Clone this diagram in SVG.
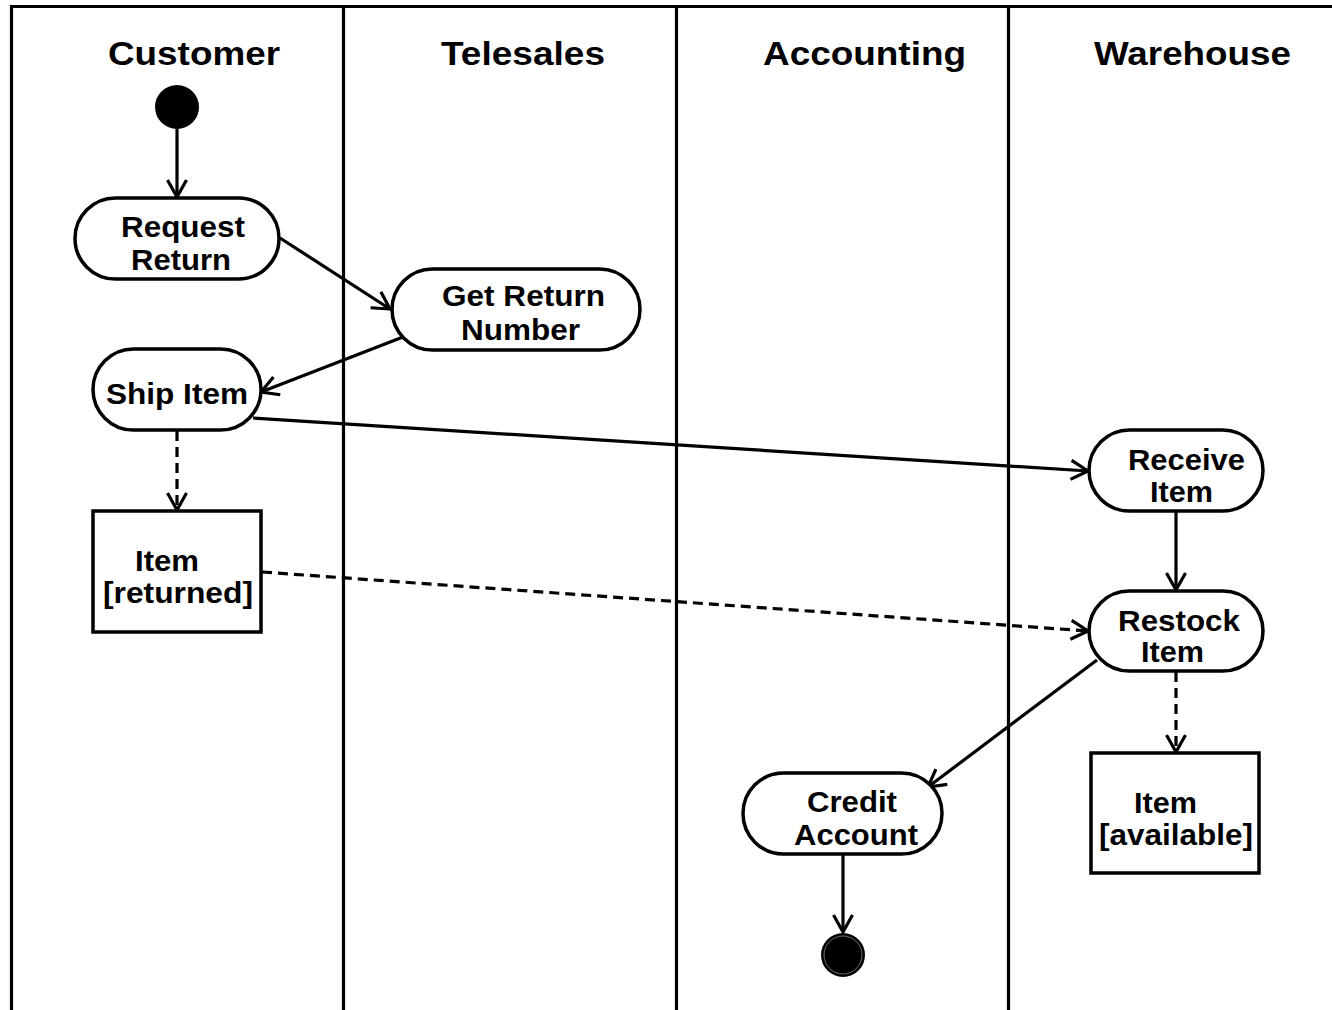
<svg xmlns="http://www.w3.org/2000/svg" width="1332" height="1010" viewBox="0 0 1332 1010">
<style>
.lane{stroke:#000;stroke-width:3.2;fill:none}
.title{font-family:"Liberation Sans",Arial,sans-serif;font-weight:bold;font-size:33px;fill:#000}
.lbl{font-family:"Liberation Sans",Arial,sans-serif;font-weight:bold;font-size:29px;fill:#000}
.act{fill:#fff;stroke:#000;stroke-width:3.5}
.obj{fill:#fff;stroke:#000;stroke-width:3.5}
.flow{stroke:#000;stroke-width:3.2;fill:none;marker-end:url(#open)}
.dash{stroke-dasharray:10 6}
</style>
<defs>
<marker id="open" markerUnits="userSpaceOnUse" markerWidth="24" markerHeight="24" viewBox="-20 -12 24 24" refX="0" refY="0" orient="auto">
<path d="M-17,-9.5 L0,0 L-17,9.5" fill="none" stroke="#000" stroke-width="3.2"/>
</marker>
</defs>
<rect width="1332" height="1010" fill="#fff"/>
<g id="swimlanes">
<line class="lane" x1="10" y1="6.5" x2="1332" y2="6.5"/>
<line class="lane" x1="11.5" y1="5" x2="11.5" y2="1010"/>
<line class="lane" x1="343.5" y1="5" x2="343.5" y2="1010"/>
<line class="lane" x1="676.5" y1="5" x2="676.5" y2="1010"/>
<line class="lane" x1="1008.5" y1="5" x2="1008.5" y2="1010"/>
<text class="title" x="108" y="65" textLength="172" lengthAdjust="spacingAndGlyphs">Customer</text>
<text class="title" x="441" y="65" textLength="164" lengthAdjust="spacingAndGlyphs">Telesales</text>
<text class="title" x="763" y="65" textLength="203" lengthAdjust="spacingAndGlyphs">Accounting</text>
<text class="title" x="1094" y="65" textLength="197" lengthAdjust="spacingAndGlyphs">Warehouse</text>
</g>
<g id="connectors">
<line class="flow" x1="177" y1="129" x2="177" y2="197"/>
<line class="flow" x1="280" y1="238" x2="390" y2="309"/>
<line class="flow" x1="403" y1="337" x2="261" y2="392"/>
<line class="flow" x1="253" y1="418" x2="1088" y2="471"/>
<line class="flow dash" x1="177" y1="431" x2="177" y2="510"/>
<line class="flow dash" x1="262" y1="572" x2="1088" y2="631"/>
<line class="flow" x1="1176" y1="512" x2="1176" y2="590"/>
<line class="flow" x1="1097" y1="660" x2="928" y2="787"/>
<line class="flow dash" x1="1176" y1="672" x2="1176" y2="752"/>
<line class="flow" x1="843" y1="855" x2="843" y2="932"/>
</g>
<g id="start">
<circle cx="177" cy="107" r="22" fill="#000"/>
</g>
<g id="request-return">
<rect class="act" x="75" y="198" width="204" height="81" rx="40.5"/>
<text class="lbl" x="121" y="237" textLength="124" lengthAdjust="spacingAndGlyphs">Request</text>
<text class="lbl" x="131" y="270" textLength="100" lengthAdjust="spacingAndGlyphs">Return</text>
</g>
<g id="get-return-number">
<rect class="act" x="392" y="269" width="248" height="81" rx="40.5"/>
<text class="lbl" x="442" y="306" textLength="163" lengthAdjust="spacingAndGlyphs">Get Return</text>
<text class="lbl" x="461" y="340" textLength="119" lengthAdjust="spacingAndGlyphs">Number</text>
</g>
<g id="ship-item">
<rect class="act" x="93" y="349" width="168" height="81" rx="40.5"/>
<text class="lbl" x="106" y="404" textLength="142" lengthAdjust="spacingAndGlyphs">Ship Item</text>
</g>
<g id="item-returned">
<rect class="obj" x="93" y="511" width="168" height="121"/>
<text class="lbl" x="135" y="571" textLength="64" lengthAdjust="spacingAndGlyphs">Item</text>
<text class="lbl" x="103" y="603" textLength="150" lengthAdjust="spacingAndGlyphs">[returned]</text>
</g>
<g id="receive-item">
<rect class="act" x="1089" y="430" width="174" height="81" rx="40.5"/>
<text class="lbl" x="1128" y="470" textLength="117" lengthAdjust="spacingAndGlyphs">Receive</text>
<text class="lbl" x="1150" y="502" textLength="63" lengthAdjust="spacingAndGlyphs">Item</text>
</g>
<g id="restock-item">
<rect class="act" x="1089" y="591" width="174" height="80" rx="40"/>
<text class="lbl" x="1118" y="631" textLength="122" lengthAdjust="spacingAndGlyphs">Restock</text>
<text class="lbl" x="1141" y="662" textLength="63" lengthAdjust="spacingAndGlyphs">Item</text>
</g>
<g id="credit-account">
<rect class="act" x="743" y="773" width="199" height="81" rx="40.5"/>
<text class="lbl" x="807" y="812" textLength="90" lengthAdjust="spacingAndGlyphs">Credit</text>
<text class="lbl" x="794" y="845" textLength="124" lengthAdjust="spacingAndGlyphs">Account</text>
</g>
<g id="item-available">
<rect class="obj" x="1091" y="753" width="168" height="120"/>
<text class="lbl" x="1134" y="813" textLength="63" lengthAdjust="spacingAndGlyphs">Item</text>
<text class="lbl" x="1099" y="845" textLength="154" lengthAdjust="spacingAndGlyphs">[available]</text>
</g>
<g id="final">
<circle cx="843" cy="955" r="22" fill="#000"/>
<circle cx="843" cy="955" r="19" fill="none" stroke="#999" stroke-width="0.7"/>
</g>
</svg>
